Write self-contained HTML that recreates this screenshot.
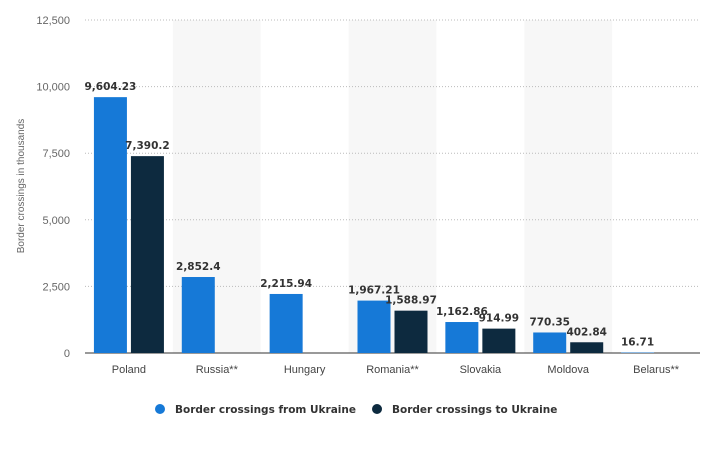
<!DOCTYPE html>
<html><head><meta charset="utf-8"><style>
body{margin:0;background:#fff;font-family:"Liberation Sans",sans-serif}
svg text{font-family:"Liberation Sans",sans-serif}
svg text.b{font-family:"DejaVu Sans","Liberation Sans",sans-serif}
</style></head><body>
<svg id="c" width="705" height="450" xmlns="http://www.w3.org/2000/svg"></svg>
<script>
const categories=["Poland","Russia**","Hungary","Romania**","Slovakia","Moldova","Belarus**"];
const fromUkraine=[9604.23,2852.4,2215.94,1967.21,1162.86,770.35,16.71];
const toUkraine=[7390.2,null,null,1588.97,914.99,402.84,null];
const fromLabels=["9,604.23","2,852.4","2,215.94","1,967.21","1,162.86","770.35","16.71"];
const toLabels=["7,390.2","","","1,588.97","914.99","402.84",""];
const ticks=[0,2500,5000,7500,10000,12500];
const tickLabels=["0","2,500","5,000","7,500","10,000","12,500"];
const svg=document.getElementById('c');const NS='http://www.w3.org/2000/svg';
const X0=85,X1=700,Y0=353,Y1=20,MAX=12500;
const bw=(X1-X0)/categories.length;
const y=v=>Y0-(v/MAX)*(Y0-Y1);
function mk(t,a,txt){const e=document.createElementNS(NS,t);for(const k in a)e.setAttribute(k,a[k]);if(txt!=null)e.textContent=txt;svg.appendChild(e);return e;}
categories.forEach((c,i)=>{if(i%2==1){const r=mk('rect',{x:X0+i*bw,y:Y1,width:bw,height:Y0-Y1,fill:'#f7f7f7'});

}});
ticks.forEach((t,i)=>{const l=mk('line',{x1:X0,x2:X1,y1:y(t),y2:y(t),stroke:t==0?'#333':'#bbb','stroke-dasharray':t==0?'':'1,2','stroke-width':1});


const tx=mk('text',{x:70,y:y(t)+4,'text-anchor':'end','font-size':11,fill:'#666'},tickLabels[i]);

});
const yt=mk('text',{x:24,y:186,'text-anchor':'middle','font-size':10,fill:'#666',transform:'rotate(-90 24 186)'},'Border crossings in thousands');


categories.forEach((c,i)=>{const cx=X0+i*bw+bw/2;
const xl=mk('text',{x:cx,y:373,'text-anchor':'middle','font-size':11,fill:'#444'},c);


const w=33;
if(fromUkraine[i]!=null){const bx=cx-35;const r=mk('rect',{x:bx,y:y(fromUkraine[i]),width:w,height:Y0-y(fromUkraine[i]),fill:'#1679d7'});


const t=mk('text',{class:'b',x:bx+w/2,y:y(fromUkraine[i])-7,'text-anchor':'middle','font-size':10.5,'font-weight':'bold',fill:'#333'},fromLabels[i]);

}
if(toUkraine[i]!=null){const bx=cx+2;const r=mk('rect',{x:bx,y:y(toUkraine[i]),width:w,height:Y0-y(toUkraine[i]),fill:'#0d2a3f'});


const t=mk('text',{class:'b',x:bx+w/2,y:y(toUkraine[i])-7,'text-anchor':'middle','font-size':10.5,'font-weight':'bold',fill:'#333'},toLabels[i]);

}
});
const lg=[[160,'#1679d7','Border crossings from Ukraine'],[377,'#0d2a3f','Border crossings to Ukraine']];
lg.forEach(l=>{const c=mk('circle',{cx:l[0],cy:409,r:5,fill:l[1]});


const t=mk('text',{class:'b',x:l[0]+15,y:413,'font-size':10.5,'font-weight':'bold',fill:'#333'},l[2]);

});
</script>
</body></html>
